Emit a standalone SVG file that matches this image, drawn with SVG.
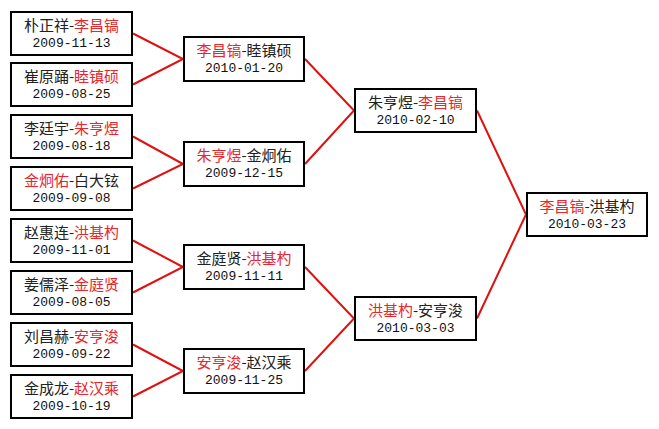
<svg xmlns="http://www.w3.org/2000/svg" width="659" height="429" viewBox="0 0 659 429">
<style>
.box{fill:#fff;stroke:#000;stroke-width:2}
.conn{fill:none;stroke:#e01010;stroke-width:2}
.nm{font-family:"Noto Sans CJK SC","Liberation Sans",sans-serif;font-size:15px;fill:#222;text-anchor:middle}
.dt{font-family:"Liberation Mono","DejaVu Sans Mono",monospace;font-size:13px;fill:#111;text-anchor:middle}
.r{fill:#e8262c}
</style>
<rect width="659" height="429" fill="#fff"/>
<g id="connectors">
<polyline class="conn" points="133,33.5 183,59 133,84.5"/>
<polyline class="conn" points="133,136.5 183,164 133,188.5"/>
<polyline class="conn" points="133,240.5 183,267 133,292.5"/>
<polyline class="conn" points="133,344.5 183,371 133,396.5"/>
<polyline class="conn" points="305,59 354,110.5 305,164"/>
<polyline class="conn" points="305,267 354,318.5 305,371"/>
<polyline class="conn" points="477,110.5 526,214.5 477,318.5"/>
</g>
<g id="n1"><rect class="box" x="11" y="12" width="121" height="43"/><text class="nm" x="71.5" y="31">朴正祥-<tspan class="r">李昌镐</tspan></text><text class="dt" x="71.5" y="47">2009-11-13</text></g>
<g id="n2"><rect class="box" x="11" y="63" width="121" height="43"/><text class="nm" x="71.5" y="82">崔原踊-<tspan class="r">睦镇硕</tspan></text><text class="dt" x="71.5" y="98">2009-08-25</text></g>
<g id="n3"><rect class="box" x="11" y="115" width="121" height="43"/><text class="nm" x="71.5" y="134">李廷宇-<tspan class="r">朱亨煜</tspan></text><text class="dt" x="71.5" y="150">2009-08-18</text></g>
<g id="n4"><rect class="box" x="11" y="167" width="121" height="43"/><text class="nm" x="71.5" y="186"><tspan class="r">金炯佑</tspan>-白大铉</text><text class="dt" x="71.5" y="202">2009-09-08</text></g>
<g id="n5"><rect class="box" x="11" y="219" width="121" height="43"/><text class="nm" x="71.5" y="238">赵惠连-<tspan class="r">洪基杓</tspan></text><text class="dt" x="71.5" y="254">2009-11-01</text></g>
<g id="n6"><rect class="box" x="11" y="271" width="121" height="43"/><text class="nm" x="71.5" y="290">姜儒泽-<tspan class="r">金庭贤</tspan></text><text class="dt" x="71.5" y="306">2009-08-05</text></g>
<g id="n7"><rect class="box" x="11" y="323" width="121" height="43"/><text class="nm" x="71.5" y="342">刘昌赫-<tspan class="r">安亨浚</tspan></text><text class="dt" x="71.5" y="358">2009-09-22</text></g>
<g id="n8"><rect class="box" x="11" y="375" width="121" height="43"/><text class="nm" x="71.5" y="394">金成龙-<tspan class="r">赵汉乘</tspan></text><text class="dt" x="71.5" y="410">2009-10-19</text></g>
<g id="s1"><rect class="box" x="184" y="37" width="120" height="44"/><text class="nm" x="244" y="56"><tspan class="r">李昌镐</tspan>-睦镇硕</text><text class="dt" x="244" y="72">2010-01-20</text></g>
<g id="s2"><rect class="box" x="184" y="142" width="120" height="44"/><text class="nm" x="244" y="161"><tspan class="r">朱亨煜</tspan>-金炯佑</text><text class="dt" x="244" y="177">2009-12-15</text></g>
<g id="s3"><rect class="box" x="184" y="245" width="120" height="44"/><text class="nm" x="244" y="264">金庭贤-<tspan class="r">洪基杓</tspan></text><text class="dt" x="244" y="280">2009-11-11</text></g>
<g id="s4"><rect class="box" x="184" y="349" width="120" height="44"/><text class="nm" x="244" y="368"><tspan class="r">安亨浚</tspan>-赵汉乘</text><text class="dt" x="244" y="384">2009-11-25</text></g>
<g id="q1"><rect class="box" x="355" y="89" width="121" height="43"/><text class="nm" x="415.5" y="108">朱亨煜-<tspan class="r">李昌镐</tspan></text><text class="dt" x="415.5" y="124">2010-02-10</text></g>
<g id="q2"><rect class="box" x="355" y="297" width="121" height="43"/><text class="nm" x="415.5" y="316"><tspan class="r">洪基杓</tspan>-安亨浚</text><text class="dt" x="415.5" y="332">2010-03-03</text></g>
<g id="f1"><rect class="box" x="527" y="193" width="120" height="43"/><text class="nm" x="587" y="212"><tspan class="r">李昌镐</tspan>-洪基杓</text><text class="dt" x="587" y="228">2010-03-23</text></g>
</svg>
